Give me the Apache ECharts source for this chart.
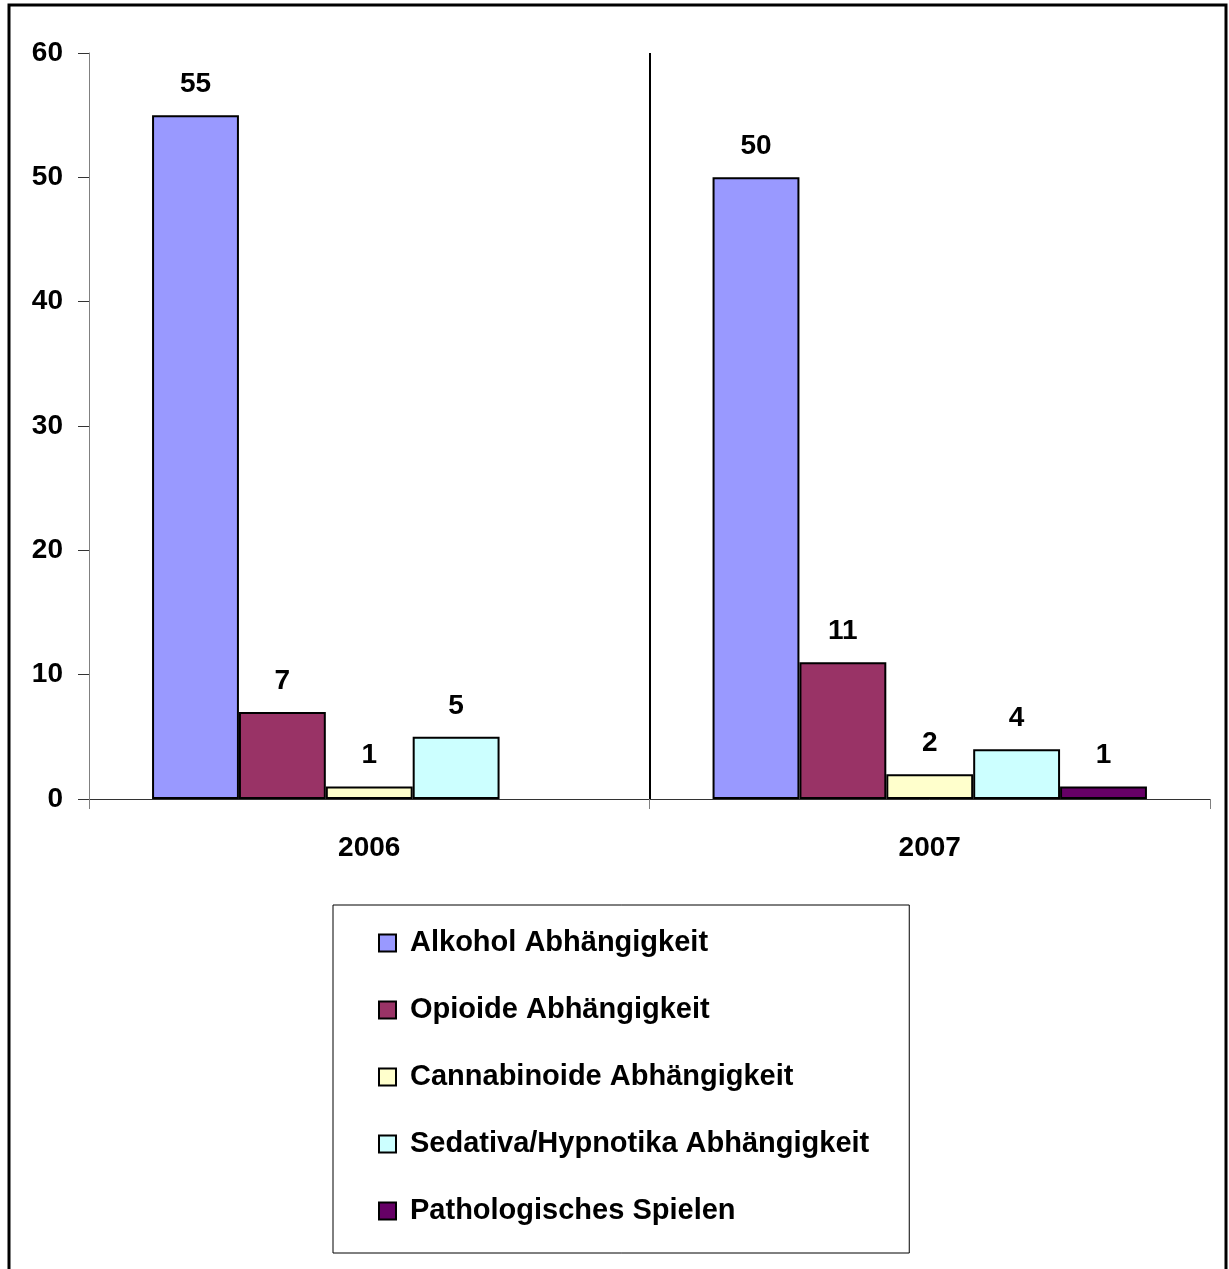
<!DOCTYPE html>
<html>
<head>
<meta charset="utf-8">
<title>Abhängigkeitsdiagnosen 2006–2007</title>
<script src="https://cdn.jsdelivr.net/npm/echarts@6/dist/echarts.min.js"></script>
<style>
  html, body { margin: 0; padding: 0; background: #ffffff; }
  #chart { width: 1229px; height: 1269px; }
</style>
</head>
<body>
<div id="chart"></div>
<script>
// Years on the category axis
const years = ['2006', '2007'];

// Diagnosis groups (legend order)
const groupNames = [
  'Alkohol Abhängigkeit',
  'Opioide Abhängigkeit',
  'Cannabinoide Abhängigkeit',
  'Sedativa/Hypnotika Abhängigkeit',
  'Pathologisches Spielen'
];

// Case counts per year
const alkohol = [55, 50];
const opioide = [7, 11];
const cannabinoide = [1, 2];
const sedativa = [5, 4];
const spielen = [null, 1];

// Value axis ticks
const yTicks = [0, 10, 20, 30, 40, 50, 60];

const groupValues = [alkohol, opioide, cannabinoide, sedativa, spielen];
const groupColors = ['#9999FF', '#993366', '#FFFFCC', '#CCFFFF', '#660066'];

const FONT = "'Liberation Sans', Arial, sans-serif";

const chart = echarts.init(document.getElementById('chart'), null, { renderer: 'canvas' });

const series = groupNames.map((name, i) => ({
  name: name,
  type: 'bar',
  data: groupValues[i],
  barGap: '0%',
  barCategoryGap: '22.5%',
  itemStyle: {
    color: groupColors[i],
    borderColor: '#000000',
    borderWidth: 2
  },
  label: {
    show: true,
    position: 'top',
    distance: 17,
    color: '#000000',
    fontFamily: FONT,
    fontWeight: 'bold',
    fontSize: 28
  },
  emphasis: { disabled: true }
}));

chart.setOption({
  animation: false,
  backgroundColor: '#ffffff',
  // frame around the whole chart area
  graphic: [{
    type: 'rect',
    shape: { x: 9, y: 5, width: 1217, height: 1300 },
    style: { fill: 'none', stroke: '#000000', lineWidth: 3 },
    silent: true,
    z: 100
  }],
  grid: {
    left: 89,
    right: 19,
    top: 53,
    bottom: 470,
    containLabel: false
  },
  legend: {
    orient: 'vertical',
    left: 333,
    top: 905,
    data: groupNames,
    selectedMode: false,
    icon: 'rect',
    itemWidth: 17,
    itemHeight: 17,
    itemGap: 37,
    padding: [23, 40, 27, 45],
    borderColor: '#000000',
    borderWidth: 1,
    textStyle: {
      color: '#000000',
      fontFamily: FONT,
      fontWeight: 'bold',
      fontSize: 29,
      lineHeight: 30,
      padding: [0, 0, 0, 9]
    }
  },
  xAxis: {
    type: 'category',
    data: years,
    boundaryGap: true,
    axisLine: { show: true, lineStyle: { color: '#333333', width: 1 } },
    axisTick: { show: true, length: 10, lineStyle: { color: '#808080', width: 1 } },
    axisLabel: {
      margin: 35,
      color: '#000000',
      fontFamily: FONT,
      fontWeight: 'bold',
      fontSize: 28
    },
    // only the divider between the two years
    splitLine: {
      show: true,
      interval: 0,
      showMinLine: false,
      showMaxLine: false,
      lineStyle: { color: '#000000', width: 2 }
    }
  },
  yAxis: {
    type: 'value',
    min: yTicks[0],
    max: yTicks[yTicks.length - 1],
    interval: yTicks[1] - yTicks[0],
    axisLine: { show: true, lineStyle: { color: '#808080', width: 1 } },
    axisTick: { show: true, inside: false, length: 11, lineStyle: { color: '#333333', width: 1 } },
    axisLabel: {
      margin: 26,
      color: '#000000',
      fontFamily: FONT,
      fontWeight: 'bold',
      fontSize: 28
    },
    splitLine: { show: false }
  },
  series: series
});
</script>
</body>
</html>
